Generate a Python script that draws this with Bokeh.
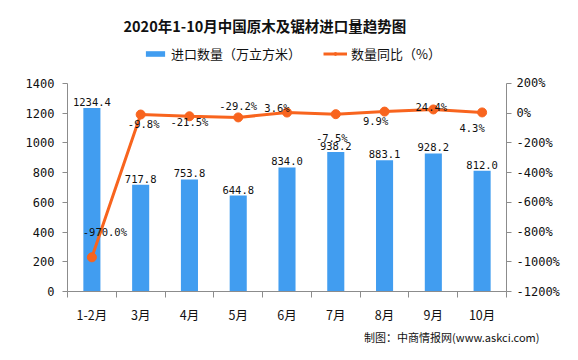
from bokeh.plotting import figure
from bokeh.models import (ColumnDataSource, Range1d, LinearAxis, FixedTicker, PrintfTickFormatter,
                          CustomJSTickFormatter, Legend, LegendItem, Title)
from bokeh.core.properties import value
from bokeh.embed import file_html
from bokeh.resources import INLINE

# ---- data ----
categories = ["1-2月", "3月", "4月", "5月", "6月", "7月", "8月", "9月", "10月"]
import_volume = [1234.4, 717.8, 753.8, 644.8, 834.0, 938.2, 883.1, 928.2, 812.0]
yoy_pct = [-970.0, -9.8, -21.5, -29.2, 3.6, -7.5, 9.9, 24.4, 4.3]
left_ticks = [0, 200, 400, 600, 800, 1000, 1200, 1400]
right_ticks = [-1200, -1000, -800, -600, -400, -200, 0, 200]
title_text = "2020年1-10月中国原木及锯材进口量趋势图"
source_text = "制图：中商情报网(www.askci.com)"
legend_labels = ["进口数量（万立方米）", "数量同比（%）"]

# ---- styles ----
BAR = "#419DF0"
LINE = "#F8641E"
AXIS = "#8C8C8C"
CJK = "Noto Sans CJK SC"
MONO = "DejaVu Sans Mono"

# per-point label offsets in screen px (dx, dy down-positive)
pct_label_dx = [13, 3, 0, 0, -10, -4, -9, -2, -10]
pct_label_dy = [-25, 9, 6, -11, -5, 24, 9, -2, 16]

n = len(categories)
centers = [i + 0.5 for i in range(n)]

# layout: axis span in px, plus a strip on top of the plotting area for the legend
H, TOP_PAD, BOTTOM_PAD = 344, 40, 52
AXIS_PX = H - BOTTOM_PAD - 83
LEGEND_PX = 43
left_lo, left_hi = left_ticks[0], left_ticks[-1]
right_lo, right_hi = right_ticks[0], right_ticks[-1]
left_top = left_hi + (left_hi - left_lo) * LEGEND_PX / AXIS_PX
right_top = right_hi + (right_hi - right_lo) * LEGEND_PX / AXIS_PX

src = ColumnDataSource(dict(
    x=centers,
    vol=import_volume,
    pct=yoy_pct,
    vol_txt=[f"{v:.1f}" for v in import_volume],
    pct_txt=[f"{v:.1f}%" for v in yoy_pct],
    dx=pct_label_dx,
    dy=pct_label_dy,
))

p = figure(width=562, height=H, title=None,
           x_range=Range1d(0, n), y_range=Range1d(left_lo, left_top),
           output_backend="svg", toolbar_location=None,
           x_axis_location=None, y_axis_location=None,
           min_border_left=67, min_border_right=55,
           min_border_top=TOP_PAD, min_border_bottom=BOTTOM_PAD)
p.extra_y_ranges = {"pct": Range1d(right_lo, right_top)}
p.outline_line_color = None
p.background_fill_color = "white"
p.border_fill_color = "white"
p.xgrid.visible = False
p.ygrid.visible = False

# axes
ax_l = LinearAxis(ticker=FixedTicker(ticks=left_ticks, minor_ticks=[]), major_label_standoff=8,
                  bounds=(left_lo, left_hi))
ax_r = LinearAxis(y_range_name="pct", ticker=FixedTicker(ticks=right_ticks, minor_ticks=[]),
                  formatter=PrintfTickFormatter(format="%d%%"), major_label_standoff=5,
                  bounds=(right_lo, right_hi))
for ax in (ax_l, ax_r):
    ax.axis_line_color = AXIS
    ax.major_tick_line_color = AXIS
    ax.major_tick_in = 0
    ax.major_tick_out = 5
    ax.minor_tick_line_color = None
    ax.major_label_text_font = MONO
    ax.major_label_text_font_size = "12px"
    ax.major_label_text_color = "#111111"
p.add_layout(ax_l, "left")
p.add_layout(ax_r, "right")

ax_edges = LinearAxis(ticker=FixedTicker(ticks=list(range(n + 1)), minor_ticks=[]),
                      formatter=CustomJSTickFormatter(code="return '';"),
                      major_label_text_font_size="1px", major_label_standoff=0,
                      axis_line_color=AXIS, major_tick_line_color=AXIS,
                      major_tick_in=0, major_tick_out=6, minor_tick_line_color=None)
p.add_layout(ax_edges, "below")
ax_c = LinearAxis(ticker=FixedTicker(ticks=centers, minor_ticks=[]),
                  formatter=CustomJSTickFormatter(args=dict(cats=categories),
                                                  code="return cats[Math.floor(tick)];"),
                  axis_line_color=None, major_tick_line_color=None,
                  minor_tick_line_color=None, major_label_standoff=1,
                  major_label_text_font=CJK, major_label_text_font_size="12.5px",
                  major_label_text_color="#111111")
p.add_layout(ax_c, "below")

# bars
bars = p.vbar(x="x", top="vol", width=0.35, source=src, color=BAR, line_color=None)
p.text(x="x", y="vol", text="vol_txt", source=src, text_align="center",
       text_baseline="bottom", y_offset=-2, text_font=value(MONO),
       text_font_size="10.5px", text_color="#111111")

# line
ln = p.line(x="x", y="pct", source=src, y_range_name="pct", line_color=LINE, line_width=3)
mk = p.scatter(x="x", y="pct", source=src, y_range_name="pct", size=9,
               fill_color=LINE, line_color=LINE)
p.text(x="x", y="pct", text="pct_txt", source=src, y_range_name="pct",
       x_offset="dx", y_offset="dy", text_align="center", text_baseline="middle",
       text_font=value(MONO), text_font_size="10.5px", text_color="#111111")

# legend (in the top strip of the plotting area; location = bottom-left corner)
legend = Legend(items=[LegendItem(label=legend_labels[0], renderers=[bars]),
                       LegendItem(label=legend_labels[1], renderers=[ln, mk])],
                orientation="horizontal", location=(76, AXIS_PX + LEGEND_PX - 24),
                background_fill_alpha=0, border_line_color=None,
                margin=0, padding=0, spacing=22, glyph_width=24, glyph_height=7,
                label_height=14, label_standoff=4,
                label_text_font=CJK, label_text_font_size="13px",
                label_text_color="#111111")
p.add_layout(legend, "center")

# title & source
p.add_layout(Title(text=title_text, align="left", offset=56, standoff=10,
                   text_font=CJK, text_font_size="14.5px", text_font_style="bold",
                   text_color="#111111"), "above")
p.add_layout(Title(text=source_text, align="right", offset=-33, standoff=0,
                   text_font=CJK, text_font_size="11px", text_font_style="normal",
                   text_color="#111111"), "below")

open("out.html", "w").write(file_html(p, INLINE))
